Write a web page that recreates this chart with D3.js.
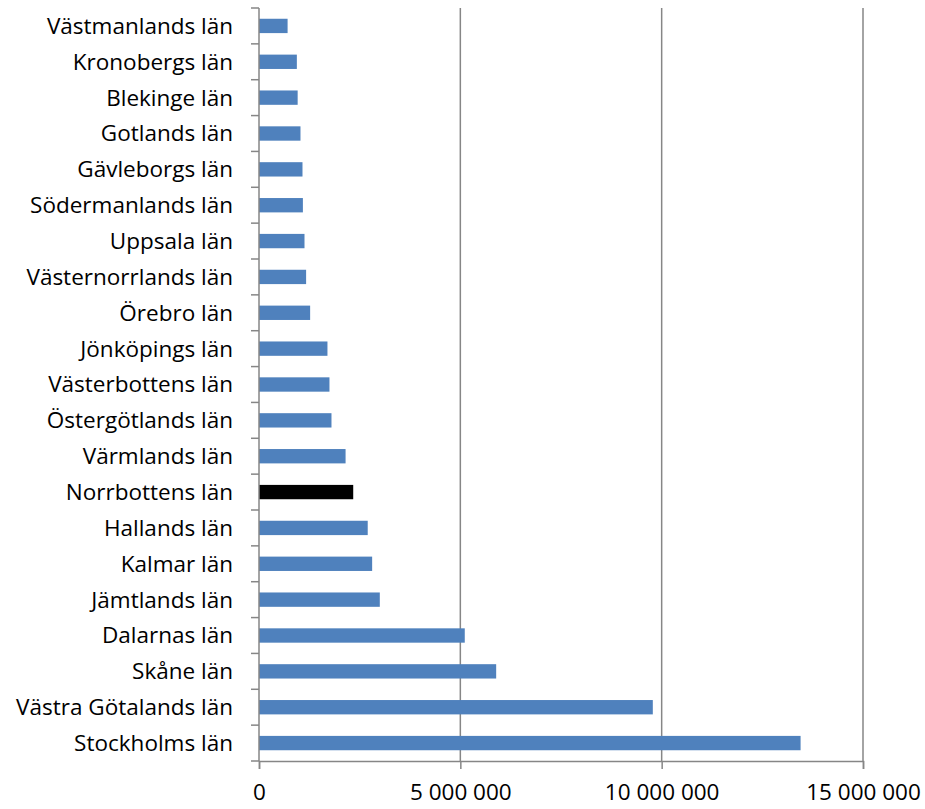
<html>
<head>
<style>
  body { margin: 0; background: #fff; }
  svg text { font-family: "Open Sans", sans-serif; fill: #000; }
</style>
</head>
<body>
<svg id="chart" width="925" height="809"></svg>
<script src="https://d3js.org/d3.v7.min.js"></script>
<script>
  // counties top to bottom
  var lan = ["Västmanlands län", "Kronobergs län", "Blekinge län", "Gotlands län",
    "Gävleborgs län", "Södermanlands län", "Uppsala län", "Västernorrlands län",
    "Örebro län", "Jönköpings län", "Västerbottens län", "Östergötlands län",
    "Värmlands län", "Norrbottens län", "Hallands län", "Kalmar län",
    "Jämtlands län", "Dalarnas län", "Skåne län", "Västra Götalands län", "Stockholms län"];
  var varden = [710000, 940000, 960000, 1030000, 1080000, 1090000, 1130000, 1170000,
    1270000, 1700000, 1750000, 1800000, 2150000, 2340000, 2700000, 2810000,
    3000000, 5110000, 5890000, 9780000, 13450000];
  var markerad = "Norrbottens län";
  var xTicks = [0, 5000000, 10000000, 15000000];

  var margin = {top: 8, left: 259, right: 62, bottom: 48};
  var width = 925 - margin.left - margin.right,
      height = 809 - margin.top - margin.bottom;

  var svg = d3.select("#chart");
  var g = svg.append("g").attr("transform", "translate(" + margin.left + "," + margin.top + ")");

  var x = d3.scaleLinear().domain([0, 15000000]).range([0, width]);
  var y = d3.scaleBand().domain(lan).range([0, height]).paddingInner(0.6).paddingOuter(0.3);

  // vertical gridlines
  g.selectAll("line.grid")
    .data(xTicks.slice(1))
    .enter().append("line")
    .attr("class", "grid")
    .attr("x1", function(d) { return x(d); })
    .attr("x2", function(d) { return x(d); })
    .attr("y1", 0).attr("y2", height)
    .attr("stroke", "#868686").attr("stroke-width", 1.5);

  var data = lan.map(function(l, i) { return {lan: l, v: varden[i]}; });

  g.selectAll("rect")
    .data(data)
    .enter().append("rect")
    .attr("x", x(0))
    .attr("y", function(d) { return y(d.lan); })
    .attr("width", function(d) { return x(d.v) - x(0); })
    .attr("height", y.bandwidth())
    .attr("fill", function(d) { return d.lan == markerad ? "#000" : "#4F81BD"; });

  // y axis with ticks between categories
  var bandStep = height / lan.length;
  g.append("line")
    .attr("x1", 0).attr("x2", 0).attr("y1", 0).attr("y2", height)
    .attr("stroke", "#868686").attr("stroke-width", 1.5);
  g.selectAll("line.ytick")
    .data(d3.range(lan.length + 1))
    .enter().append("line")
    .attr("class", "ytick")
    .attr("x1", -8).attr("x2", 0)
    .attr("y1", function(i) { return i * bandStep; })
    .attr("y2", function(i) { return i * bandStep; })
    .attr("stroke", "#868686").attr("stroke-width", 1.5);
  g.selectAll("text.ylab")
    .data(lan)
    .enter().append("text")
    .attr("class", "ylab")
    .attr("x", -26)
    .attr("y", function(d) { return y(d) + y.bandwidth() / 2; })
    .attr("dy", "0.35em")
    .attr("text-anchor", "end")
    .style("font-size", "22.5px")
    .text(function(d) { return d; });

  // x axis
  var xAxis = g.append("g")
    .attr("transform", "translate(0," + height + ")")
    .call(d3.axisBottom(x).tickValues(xTicks).tickSize(8).tickPadding(15)
      .tickFormat(function(d) { return d3.format(",")(d).replace(/,/g, " "); }));
  xAxis.select(".domain").attr("stroke", "#868686").attr("stroke-width", 1.5);
  xAxis.selectAll(".tick line").attr("stroke", "#868686").attr("stroke-width", 1.5);
  xAxis.selectAll(".tick text").style("font-size", "22.5px").style("font-family", "'Open Sans', sans-serif").attr("fill", "#000");
</script>
</body>
</html>
